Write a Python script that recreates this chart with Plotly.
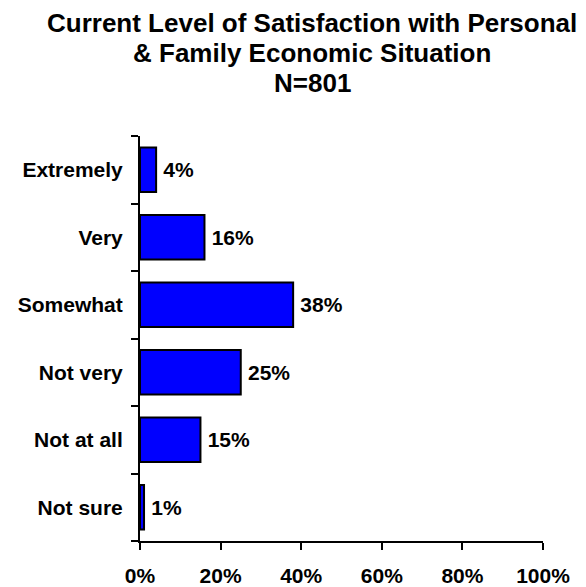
import plotly.graph_objects as go

categories = ["Extremely", "Very", "Somewhat", "Not very", "Not at all", "Not sure"]
values = [4, 16, 38, 25, 15, 1]
tick_vals = [0, 20, 40, 60, 80, 100]
tick_text = ["0%", "20%", "40%", "60%", "80%", "100%"]
title_lines = ["Current Level of Satisfaction with Personal",
               "& Family Economic Situation",
               "N=801"]

FONT = "Liberation Sans, Arial, sans-serif"

fig = go.Figure(go.Bar(
    x=values,
    y=categories,
    orientation="h",
    marker=dict(color="#0000FF", line=dict(color="#000000", width=2)),
    width=0.66,
    text=[f"{v}%" for v in values],
    texttemplate="\u2009%{text}",
    textposition="outside",
    cliponaxis=False,
    textfont=dict(family=FONT, size=21, color="#000000", weight="bold"),
))

L, R, T, B = 140, 43, 136, 46
W, H = 586, 587
ph = H - T - B
pw = W - L - R

fig.update_layout(
    width=W, height=H,
    margin=dict(l=L, r=R, t=T, b=B, autoexpand=False),
    paper_bgcolor="white", plot_bgcolor="white",
    showlegend=False,
    font=dict(family=FONT, color="#000000"),
)

# title lines (centres measured from the top of the page)
title_centres_px = [23, 53, 83]
for line, ypx in zip(title_lines, title_centres_px):
    fig.add_annotation(
        text=line, showarrow=False,
        xref="paper", yref="paper",
        x=(312 - L) / pw, y=(H - B - ypx) / ph,
        xanchor="center", yanchor="middle",
        font=dict(family=FONT, size=26, color="#000000", weight="bold"),
    )

fig.update_xaxes(
    range=[0, 100], automargin=False,
    tickvals=tick_vals, ticktext=tick_text,
    ticks="outside", ticklen=7, tickwidth=2, tickcolor="#000000",
    showline=True, linecolor="#000000", linewidth=2,
    showgrid=False, zeroline=False,
    tickfont=dict(family=FONT, size=21, color="#000000", weight="bold"),
    ticklabelstandoff=8,
)
fig.update_yaxes(
    categoryorder="array", categoryarray=categories[::-1],
    automargin=False,
    tickson="boundaries",
    ticks="outside", ticklen=7, tickwidth=2, tickcolor="#000000",
    showline=True, linecolor="#000000", linewidth=2,
    showgrid=False, zeroline=False,
    tickfont=dict(family=FONT, size=21, color="#000000", weight="bold"),
    ticklabelstandoff=11,
)

fig.write_html(
    "out.html",
    config={"displayModeBar": False},
    post_script="document.body.style.margin='0';document.body.style.overflow='hidden';",
)
